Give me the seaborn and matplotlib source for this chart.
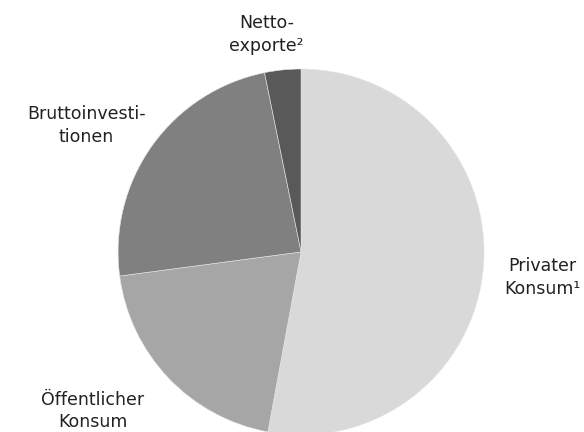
import matplotlib
matplotlib.use("Agg")
import matplotlib.pyplot as plt
import seaborn as sns

sns.set_theme(style="white")
plt.rcParams["font.family"] = ["DejaVu Sans"]

labels = ["Privater\nKonsum¹", "Öffentlicher\nKonsum", "Bruttoinvesti-\ntionen", "Netto-\nexporte²"]
shares = [52.9, 20.0, 23.9, 3.2]
colors = ["#d9d9d9", "#a6a6a6", "#808080", "#595959"]
label_pos = [(1.32, -0.142), (-1.137, -0.869), (-1.175, 0.689), (-0.19, 1.186)]

fig = plt.figure(figsize=(5.84, 4.32), dpi=100)
ax = fig.add_axes([0, 0, 1, 1])
ax.pie(shares, colors=colors, startangle=90, counterclock=False, radius=1,
       wedgeprops={"edgecolor": "#e8e8e8", "linewidth": 0.4})
for lab, (x, y) in zip(labels, label_pos):
    ax.text(x, y, lab, ha="center", va="center", fontsize=12.5,
            color="#222222", linespacing=1.35)
ax.set_xlim(-1.645, 1.546)
ax.set_ylim(-0.984, 1.377)
ax.set_aspect("equal")
ax.axis("off")
fig.savefig("out.png", dpi=100)
